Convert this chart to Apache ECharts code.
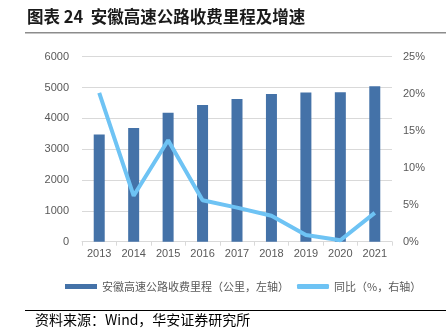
<!DOCTYPE html>
<html><head><meta charset="utf-8">
<script src="https://cdn.jsdelivr.net/npm/echarts@6/dist/echarts.min.js"></script>
<style>html,body{margin:0;padding:0;background:#fff}#c{width:446px;height:330px}</style>
</head><body><div id="c"></div>
<script>
const categories = ['2013','2014','2015','2016','2017','2018','2019','2020','2021'];
const mileage = [3475, 3690, 4185, 4430, 4625, 4790, 4840, 4850, 5045];
const growth = [20.1, 6.2, 13.7, 5.6, 4.6, 3.5, 0.9, 0.2, 3.9];
const leftTicks = [0, 1000, 2000, 3000, 4000, 5000, 6000];
const rightTicks = [0, 5, 10, 15, 20, 25];
const barName = '安徽高速公路收费里程（公里，左轴）';
const lineName = '同比（%，右轴）';
const titleText = '图表 24  安徽高速公路收费里程及增速';
const sourceText = '资料来源：Wind，华安证券研究所';

const cjk = '"Noto Sans CJK SC", "Noto Sans", sans-serif';
const chart = echarts.init(document.getElementById('c'));
chart.setOption({
  animation: false,
  grid: { left: 82, right: 54, top: 56.7, bottom: 88.3, containLabel: false },
  legend: {
    top: 276, left: 60,
    itemGap: 8,
    textStyle: { fontSize: 11, color: '#595959', fontFamily: cjk },
    data: [
      { name: barName, icon: 'rect', itemStyle: { color: '#4472A8' } },
      { name: lineName, icon: 'roundRect', itemStyle: { color: '#6EC3F4' } }
    ],
    itemWidth: 32, itemHeight: 5
  },
  xAxis: {
    type: 'category', data: categories,
    axisLine: { lineStyle: { color: '#D9D9D9' } },
    axisTick: { show: true, alignWithLabel: false, length: 4, lineStyle: { color: '#D9D9D9' } },
    axisLabel: { color: '#595959', fontSize: 11, fontFamily: 'Liberation Sans, Arial', margin: 7 }
  },
  yAxis: [
    { type: 'value', min: leftTicks[0], max: leftTicks[leftTicks.length-1], interval: 1000,
      axisLine: { show: false }, axisTick: { show: false },
      splitLine: { lineStyle: { color: '#D9D9D9' } },
      axisLabel: { color: '#595959', fontSize: 11, fontFamily: 'Liberation Sans, Arial', margin: 13,
        formatter: v => String(v) } },
    { type: 'value', min: rightTicks[0], max: rightTicks[rightTicks.length-1], interval: 5,
      axisLine: { show: false }, axisTick: { show: false }, splitLine: { show: false },
      axisLabel: { color: '#595959', fontSize: 11, fontFamily: 'Liberation Sans, Arial', margin: 11, formatter: v => v + '%' } }
  ],
  series: [
    { name: barName, type: 'bar', data: mileage, barWidth: 11, yAxisIndex: 0,
      itemStyle: { color: '#4472A8' } },
    { name: lineName, type: 'line', data: growth, yAxisIndex: 1, showSymbol: false, symbol: 'none',
      lineStyle: { color: '#6EC3F4', width: 4 }, itemStyle: { color: '#6EC3F4' } }
  ],
  graphic: [
    { type: 'text', left: 27, top: 8, style: { text: titleText, font: 'bold 16.5px ' + cjk, fill: '#1a1a1a' } },
    { type: 'rect', shape: { x: 25, y: 32, width: 421, height: 1.5 }, style: { fill: '#8c8c8c' } },
    { type: 'rect', shape: { x: 25, y: 310, width: 421, height: 1 }, style: { fill: '#000' } },
    { type: 'text', left: 35, top: 313, style: { text: sourceText, font: '14px ' + cjk, fill: '#000' } }
  ]
});
</script></body></html>
